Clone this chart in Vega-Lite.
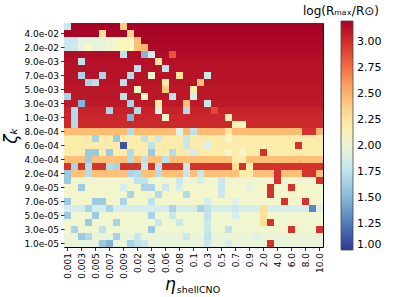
{
"$schema": "https://vega.github.io/schema/vega-lite/v6.json",
"width": 259, "height": 224,
"autosize": "none",
"padding": {"left": 64, "top": 23, "right": 74, "bottom": 50},
"background": "white",
"config": {
 "font": "DejaVu Sans",
 "view": {"stroke": "black", "strokeWidth": 1},
 "axis": {"labelFont": "DejaVu Sans", "labelFontSize": 9, "labelColor": "black", "tickColor": "black", "tickSize": 3.5, "tickWidth": 0.8, "domain": false, "grid": false, "titleFont": "DejaVu Sans", "titleColor": "black", "titleFontWeight": "normal"}
},
"title": {"text": "η", "orient": "bottom", "frame": "group", "anchor": "middle", "dx": -23, "offset": -4, "fontSize": 17, "fontStyle": "italic", "fontWeight": "normal", "font": "DejaVu Sans", "color": "black", "baseline": "alphabetic"},
"data": {"values": [
{"x":0.001,"y":0.05,"v":1.8},{"x":0.002,"y":0.05,"v":3.19},{"x":0.003,"y":0.05,"v":3.19},{"x":0.004,"y":0.05,"v":3.19},{"x":0.005,"y":0.05,"v":3.19},{"x":0.006,"y":0.05,"v":3.19},{"x":0.007,"y":0.05,"v":3.19},{"x":0.008,"y":0.05,"v":3.19},{"x":0.009,"y":0.05,"v":2.4},{"x":0.01,"y":0.05,"v":3.19},{"x":0.02,"y":0.05,"v":3.19},{"x":0.03,"y":0.05,"v":3.19},{"x":0.04,"y":0.05,"v":3.19},{"x":0.05,"y":0.05,"v":3.19},{"x":0.06,"y":0.05,"v":3.19},{"x":0.07,"y":0.05,"v":3.19},{"x":0.08,"y":0.05,"v":3.19},{"x":0.09,"y":0.05,"v":3.19},{"x":0.1,"y":0.05,"v":3.19},{"x":0.2,"y":0.05,"v":3.19},{"x":0.3,"y":0.05,"v":3.19},{"x":0.4,"y":0.05,"v":3.19},{"x":0.5,"y":0.05,"v":3.19},{"x":0.6,"y":0.05,"v":3.19},{"x":0.7,"y":0.05,"v":3.19},{"x":0.8,"y":0.05,"v":3.19},{"x":0.9,"y":0.05,"v":3.19},{"x":1,"y":0.05,"v":3.19},{"x":2,"y":0.05,"v":3.19},{"x":3,"y":0.05,"v":3.19},{"x":4,"y":0.05,"v":3.19},{"x":5,"y":0.05,"v":3.19},{"x":6,"y":0.05,"v":3.19},{"x":7,"y":0.05,"v":3.19},{"x":8,"y":0.05,"v":3.19},{"x":9,"y":0.05,"v":3.19},{"x":10,"y":0.05,"v":3.19},
{"x":0.001,"y":0.04,"v":3.18},{"x":0.002,"y":0.04,"v":3.18},{"x":0.003,"y":0.04,"v":3.18},{"x":0.004,"y":0.04,"v":3.18},{"x":0.005,"y":0.04,"v":3.18},{"x":0.006,"y":0.04,"v":2.3},{"x":0.007,"y":0.04,"v":3.18},{"x":0.008,"y":0.04,"v":3.18},{"x":0.009,"y":0.04,"v":3.18},{"x":0.01,"y":0.04,"v":2.35},{"x":0.02,"y":0.04,"v":3.18},{"x":0.03,"y":0.04,"v":3.18},{"x":0.04,"y":0.04,"v":3.18},{"x":0.05,"y":0.04,"v":3.18},{"x":0.06,"y":0.04,"v":3.18},{"x":0.07,"y":0.04,"v":3.18},{"x":0.08,"y":0.04,"v":3.18},{"x":0.09,"y":0.04,"v":3.18},{"x":0.1,"y":0.04,"v":3.18},{"x":0.2,"y":0.04,"v":3.18},{"x":0.3,"y":0.04,"v":3.18},{"x":0.4,"y":0.04,"v":3.18},{"x":0.5,"y":0.04,"v":3.18},{"x":0.6,"y":0.04,"v":3.18},{"x":0.7,"y":0.04,"v":3.18},{"x":0.8,"y":0.04,"v":3.18},{"x":0.9,"y":0.04,"v":3.18},{"x":1,"y":0.04,"v":3.18},{"x":2,"y":0.04,"v":3.18},{"x":3,"y":0.04,"v":3.18},{"x":4,"y":0.04,"v":3.18},{"x":5,"y":0.04,"v":3.18},{"x":6,"y":0.04,"v":3.18},{"x":7,"y":0.04,"v":3.18},{"x":8,"y":0.04,"v":3.18},{"x":9,"y":0.04,"v":3.18},{"x":10,"y":0.04,"v":3.18},
{"x":0.001,"y":0.03,"v":1.8},{"x":0.002,"y":0.03,"v":1.8},{"x":0.003,"y":0.03,"v":1.93},{"x":0.004,"y":0.03,"v":1.93},{"x":0.005,"y":0.03,"v":1.93},{"x":0.006,"y":0.03,"v":1.97},{"x":0.007,"y":0.03,"v":2.02},{"x":0.008,"y":0.03,"v":2.05},{"x":0.009,"y":0.03,"v":2.1},{"x":0.01,"y":0.03,"v":2.12},{"x":0.02,"y":0.03,"v":2.45},{"x":0.03,"y":0.03,"v":3.17},{"x":0.04,"y":0.03,"v":3.17},{"x":0.05,"y":0.03,"v":3.17},{"x":0.06,"y":0.03,"v":3.17},{"x":0.07,"y":0.03,"v":3.17},{"x":0.08,"y":0.03,"v":3.17},{"x":0.09,"y":0.03,"v":3.17},{"x":0.1,"y":0.03,"v":3.17},{"x":0.2,"y":0.03,"v":3.17},{"x":0.3,"y":0.03,"v":3.17},{"x":0.4,"y":0.03,"v":3.17},{"x":0.5,"y":0.03,"v":3.17},{"x":0.6,"y":0.03,"v":3.17},{"x":0.7,"y":0.03,"v":3.17},{"x":0.8,"y":0.03,"v":3.17},{"x":0.9,"y":0.03,"v":3.17},{"x":1,"y":0.03,"v":3.17},{"x":2,"y":0.03,"v":3.17},{"x":3,"y":0.03,"v":3.17},{"x":4,"y":0.03,"v":3.17},{"x":5,"y":0.03,"v":3.17},{"x":6,"y":0.03,"v":3.17},{"x":7,"y":0.03,"v":3.17},{"x":8,"y":0.03,"v":3.17},{"x":9,"y":0.03,"v":3.17},{"x":10,"y":0.03,"v":3.17},
{"x":0.001,"y":0.02,"v":1.8},{"x":0.002,"y":0.02,"v":1.82},{"x":0.003,"y":0.02,"v":1.95},{"x":0.004,"y":0.02,"v":2.1},{"x":0.005,"y":0.02,"v":1.95},{"x":0.006,"y":0.02,"v":1.97},{"x":0.007,"y":0.02,"v":2.0},{"x":0.008,"y":0.02,"v":2.08},{"x":0.009,"y":0.02,"v":2.12},{"x":0.01,"y":0.02,"v":2.1},{"x":0.02,"y":0.02,"v":2.45},{"x":0.03,"y":0.02,"v":2.5},{"x":0.04,"y":0.02,"v":3.16},{"x":0.05,"y":0.02,"v":3.16},{"x":0.06,"y":0.02,"v":3.16},{"x":0.07,"y":0.02,"v":3.16},{"x":0.08,"y":0.02,"v":3.16},{"x":0.09,"y":0.02,"v":3.16},{"x":0.1,"y":0.02,"v":3.16},{"x":0.2,"y":0.02,"v":3.16},{"x":0.3,"y":0.02,"v":3.16},{"x":0.4,"y":0.02,"v":3.16},{"x":0.5,"y":0.02,"v":3.16},{"x":0.6,"y":0.02,"v":3.16},{"x":0.7,"y":0.02,"v":3.16},{"x":0.8,"y":0.02,"v":3.16},{"x":0.9,"y":0.02,"v":3.16},{"x":1,"y":0.02,"v":3.16},{"x":2,"y":0.02,"v":3.16},{"x":3,"y":0.02,"v":3.16},{"x":4,"y":0.02,"v":3.16},{"x":5,"y":0.02,"v":3.16},{"x":6,"y":0.02,"v":3.16},{"x":7,"y":0.02,"v":3.16},{"x":8,"y":0.02,"v":3.16},{"x":9,"y":0.02,"v":3.16},{"x":10,"y":0.02,"v":3.16},
{"x":0.001,"y":0.01,"v":3.15},{"x":0.002,"y":0.01,"v":3.15},{"x":0.003,"y":0.01,"v":3.15},{"x":0.004,"y":0.01,"v":3.15},{"x":0.005,"y":0.01,"v":3.15},{"x":0.006,"y":0.01,"v":3.15},{"x":0.007,"y":0.01,"v":3.15},{"x":0.008,"y":0.01,"v":3.15},{"x":0.009,"y":0.01,"v":1.75},{"x":0.01,"y":0.01,"v":3.15},{"x":0.02,"y":0.01,"v":3.15},{"x":0.03,"y":0.01,"v":1.5},{"x":0.04,"y":0.01,"v":1.85},{"x":0.05,"y":0.01,"v":3.15},{"x":0.06,"y":0.01,"v":3.15},{"x":0.07,"y":0.01,"v":2.85},{"x":0.08,"y":0.01,"v":3.15},{"x":0.09,"y":0.01,"v":3.15},{"x":0.1,"y":0.01,"v":3.15},{"x":0.2,"y":0.01,"v":3.15},{"x":0.3,"y":0.01,"v":3.15},{"x":0.4,"y":0.01,"v":3.15},{"x":0.5,"y":0.01,"v":3.15},{"x":0.6,"y":0.01,"v":3.15},{"x":0.7,"y":0.01,"v":3.15},{"x":0.8,"y":0.01,"v":3.15},{"x":0.9,"y":0.01,"v":3.15},{"x":1,"y":0.01,"v":3.15},{"x":2,"y":0.01,"v":3.15},{"x":3,"y":0.01,"v":3.15},{"x":4,"y":0.01,"v":3.15},{"x":5,"y":0.01,"v":3.15},{"x":6,"y":0.01,"v":3.15},{"x":7,"y":0.01,"v":3.15},{"x":8,"y":0.01,"v":3.15},{"x":9,"y":0.01,"v":3.15},{"x":10,"y":0.01,"v":3.15},
{"x":0.001,"y":0.009,"v":3.13},{"x":0.002,"y":0.009,"v":3.13},{"x":0.003,"y":0.009,"v":1.75},{"x":0.004,"y":0.009,"v":3.13},{"x":0.005,"y":0.009,"v":3.13},{"x":0.006,"y":0.009,"v":3.13},{"x":0.007,"y":0.009,"v":3.13},{"x":0.008,"y":0.009,"v":3.13},{"x":0.009,"y":0.009,"v":3.13},{"x":0.01,"y":0.009,"v":3.13},{"x":0.02,"y":0.009,"v":3.13},{"x":0.03,"y":0.009,"v":3.13},{"x":0.04,"y":0.009,"v":3.13},{"x":0.05,"y":0.009,"v":2.25},{"x":0.06,"y":0.009,"v":3.13},{"x":0.07,"y":0.009,"v":3.13},{"x":0.08,"y":0.009,"v":3.13},{"x":0.09,"y":0.009,"v":3.13},{"x":0.1,"y":0.009,"v":3.13},{"x":0.2,"y":0.009,"v":3.13},{"x":0.3,"y":0.009,"v":3.13},{"x":0.4,"y":0.009,"v":3.13},{"x":0.5,"y":0.009,"v":3.13},{"x":0.6,"y":0.009,"v":3.13},{"x":0.7,"y":0.009,"v":3.13},{"x":0.8,"y":0.009,"v":3.13},{"x":0.9,"y":0.009,"v":3.13},{"x":1,"y":0.009,"v":3.13},{"x":2,"y":0.009,"v":3.13},{"x":3,"y":0.009,"v":3.13},{"x":4,"y":0.009,"v":3.13},{"x":5,"y":0.009,"v":3.13},{"x":6,"y":0.009,"v":3.13},{"x":7,"y":0.009,"v":3.13},{"x":8,"y":0.009,"v":3.13},{"x":9,"y":0.009,"v":3.13},{"x":10,"y":0.009,"v":3.13},
{"x":0.001,"y":0.008,"v":3.12},{"x":0.002,"y":0.008,"v":3.12},{"x":0.003,"y":0.008,"v":3.12},{"x":0.004,"y":0.008,"v":3.12},{"x":0.005,"y":0.008,"v":3.12},{"x":0.006,"y":0.008,"v":3.12},{"x":0.007,"y":0.008,"v":3.12},{"x":0.008,"y":0.008,"v":3.12},{"x":0.009,"y":0.008,"v":3.12},{"x":0.01,"y":0.008,"v":3.12},{"x":0.02,"y":0.008,"v":1.75},{"x":0.03,"y":0.008,"v":3.12},{"x":0.04,"y":0.008,"v":3.12},{"x":0.05,"y":0.008,"v":3.12},{"x":0.06,"y":0.008,"v":1.75},{"x":0.07,"y":0.008,"v":3.12},{"x":0.08,"y":0.008,"v":3.12},{"x":0.09,"y":0.008,"v":3.12},{"x":0.1,"y":0.008,"v":3.12},{"x":0.2,"y":0.008,"v":3.12},{"x":0.3,"y":0.008,"v":3.12},{"x":0.4,"y":0.008,"v":3.12},{"x":0.5,"y":0.008,"v":3.12},{"x":0.6,"y":0.008,"v":3.12},{"x":0.7,"y":0.008,"v":3.12},{"x":0.8,"y":0.008,"v":3.12},{"x":0.9,"y":0.008,"v":3.12},{"x":1,"y":0.008,"v":3.12},{"x":2,"y":0.008,"v":3.12},{"x":3,"y":0.008,"v":3.12},{"x":4,"y":0.008,"v":3.12},{"x":5,"y":0.008,"v":3.12},{"x":6,"y":0.008,"v":3.12},{"x":7,"y":0.008,"v":3.12},{"x":8,"y":0.008,"v":3.12},{"x":9,"y":0.008,"v":3.12},{"x":10,"y":0.008,"v":3.12},
{"x":0.001,"y":0.007,"v":3.12},{"x":0.002,"y":0.007,"v":3.12},{"x":0.003,"y":0.007,"v":1.65},{"x":0.004,"y":0.007,"v":3.12},{"x":0.005,"y":0.007,"v":3.12},{"x":0.006,"y":0.007,"v":1.65},{"x":0.007,"y":0.007,"v":3.12},{"x":0.008,"y":0.007,"v":3.12},{"x":0.009,"y":0.007,"v":3.12},{"x":0.01,"y":0.007,"v":1.7},{"x":0.02,"y":0.007,"v":3.12},{"x":0.03,"y":0.007,"v":3.12},{"x":0.04,"y":0.007,"v":2.05},{"x":0.05,"y":0.007,"v":3.12},{"x":0.06,"y":0.007,"v":3.12},{"x":0.07,"y":0.007,"v":3.12},{"x":0.08,"y":0.007,"v":2.25},{"x":0.09,"y":0.007,"v":3.12},{"x":0.1,"y":0.007,"v":3.12},{"x":0.2,"y":0.007,"v":3.12},{"x":0.3,"y":0.007,"v":1.8},{"x":0.4,"y":0.007,"v":3.12},{"x":0.5,"y":0.007,"v":3.12},{"x":0.6,"y":0.007,"v":3.12},{"x":0.7,"y":0.007,"v":3.12},{"x":0.8,"y":0.007,"v":3.12},{"x":0.9,"y":0.007,"v":3.12},{"x":1,"y":0.007,"v":3.12},{"x":2,"y":0.007,"v":3.12},{"x":3,"y":0.007,"v":3.12},{"x":4,"y":0.007,"v":3.12},{"x":5,"y":0.007,"v":3.12},{"x":6,"y":0.007,"v":3.12},{"x":7,"y":0.007,"v":3.12},{"x":8,"y":0.007,"v":3.12},{"x":9,"y":0.007,"v":3.12},{"x":10,"y":0.007,"v":3.12},
{"x":0.001,"y":0.006,"v":3.11},{"x":0.002,"y":0.006,"v":3.11},{"x":0.003,"y":0.006,"v":3.11},{"x":0.004,"y":0.006,"v":1.65},{"x":0.005,"y":0.006,"v":1.75},{"x":0.006,"y":0.006,"v":3.11},{"x":0.007,"y":0.006,"v":3.11},{"x":0.008,"y":0.006,"v":3.11},{"x":0.009,"y":0.006,"v":1.75},{"x":0.01,"y":0.006,"v":3.11},{"x":0.02,"y":0.006,"v":3.11},{"x":0.03,"y":0.006,"v":3.11},{"x":0.04,"y":0.006,"v":3.11},{"x":0.05,"y":0.006,"v":3.11},{"x":0.06,"y":0.006,"v":2.2},{"x":0.07,"y":0.006,"v":3.11},{"x":0.08,"y":0.006,"v":3.11},{"x":0.09,"y":0.006,"v":3.11},{"x":0.1,"y":0.006,"v":3.11},{"x":0.2,"y":0.006,"v":2.45},{"x":0.3,"y":0.006,"v":3.11},{"x":0.4,"y":0.006,"v":3.11},{"x":0.5,"y":0.006,"v":3.11},{"x":0.6,"y":0.006,"v":3.11},{"x":0.7,"y":0.006,"v":3.11},{"x":0.8,"y":0.006,"v":3.11},{"x":0.9,"y":0.006,"v":3.11},{"x":1,"y":0.006,"v":3.11},{"x":2,"y":0.006,"v":3.11},{"x":3,"y":0.006,"v":3.11},{"x":4,"y":0.006,"v":3.11},{"x":5,"y":0.006,"v":3.11},{"x":6,"y":0.006,"v":3.11},{"x":7,"y":0.006,"v":3.11},{"x":8,"y":0.006,"v":3.11},{"x":9,"y":0.006,"v":3.11},{"x":10,"y":0.006,"v":3.11},
{"x":0.001,"y":0.005,"v":3.1},{"x":0.002,"y":0.005,"v":3.1},{"x":0.003,"y":0.005,"v":3.1},{"x":0.004,"y":0.005,"v":3.1},{"x":0.005,"y":0.005,"v":3.1},{"x":0.006,"y":0.005,"v":3.1},{"x":0.007,"y":0.005,"v":3.1},{"x":0.008,"y":0.005,"v":3.1},{"x":0.009,"y":0.005,"v":3.1},{"x":0.01,"y":0.005,"v":3.1},{"x":0.02,"y":0.005,"v":2.1},{"x":0.03,"y":0.005,"v":3.1},{"x":0.04,"y":0.005,"v":3.1},{"x":0.05,"y":0.005,"v":3.1},{"x":0.06,"y":0.005,"v":2.4},{"x":0.07,"y":0.005,"v":3.1},{"x":0.08,"y":0.005,"v":3.1},{"x":0.09,"y":0.005,"v":3.1},{"x":0.1,"y":0.005,"v":2.2},{"x":0.2,"y":0.005,"v":3.1},{"x":0.3,"y":0.005,"v":3.1},{"x":0.4,"y":0.005,"v":3.1},{"x":0.5,"y":0.005,"v":3.1},{"x":0.6,"y":0.005,"v":3.1},{"x":0.7,"y":0.005,"v":3.1},{"x":0.8,"y":0.005,"v":3.1},{"x":0.9,"y":0.005,"v":3.1},{"x":1,"y":0.005,"v":3.1},{"x":2,"y":0.005,"v":3.1},{"x":3,"y":0.005,"v":3.1},{"x":4,"y":0.005,"v":3.1},{"x":5,"y":0.005,"v":3.1},{"x":6,"y":0.005,"v":3.1},{"x":7,"y":0.005,"v":3.1},{"x":8,"y":0.005,"v":3.1},{"x":9,"y":0.005,"v":3.1},{"x":10,"y":0.005,"v":3.1},
{"x":0.001,"y":0.004,"v":1.65},{"x":0.002,"y":0.004,"v":3.1},{"x":0.003,"y":0.004,"v":3.1},{"x":0.004,"y":0.004,"v":3.1},{"x":0.005,"y":0.004,"v":3.1},{"x":0.006,"y":0.004,"v":3.1},{"x":0.007,"y":0.004,"v":3.1},{"x":0.008,"y":0.004,"v":3.1},{"x":0.009,"y":0.004,"v":1.75},{"x":0.01,"y":0.004,"v":3.1},{"x":0.02,"y":0.004,"v":3.1},{"x":0.03,"y":0.004,"v":2.05},{"x":0.04,"y":0.004,"v":3.1},{"x":0.05,"y":0.004,"v":3.1},{"x":0.06,"y":0.004,"v":3.1},{"x":0.07,"y":0.004,"v":1.75},{"x":0.08,"y":0.004,"v":3.1},{"x":0.09,"y":0.004,"v":3.1},{"x":0.1,"y":0.004,"v":1.85},{"x":0.2,"y":0.004,"v":3.1},{"x":0.3,"y":0.004,"v":3.1},{"x":0.4,"y":0.004,"v":3.1},{"x":0.5,"y":0.004,"v":3.1},{"x":0.6,"y":0.004,"v":3.1},{"x":0.7,"y":0.004,"v":3.1},{"x":0.8,"y":0.004,"v":3.1},{"x":0.9,"y":0.004,"v":3.1},{"x":1,"y":0.004,"v":3.1},{"x":2,"y":0.004,"v":3.1},{"x":3,"y":0.004,"v":3.1},{"x":4,"y":0.004,"v":3.1},{"x":5,"y":0.004,"v":3.1},{"x":6,"y":0.004,"v":3.1},{"x":7,"y":0.004,"v":3.1},{"x":8,"y":0.004,"v":3.1},{"x":9,"y":0.004,"v":3.1},{"x":10,"y":0.004,"v":3.1},
{"x":0.001,"y":0.003,"v":3.09},{"x":0.002,"y":0.003,"v":3.09},{"x":0.003,"y":0.003,"v":1.5},{"x":0.004,"y":0.003,"v":3.09},{"x":0.005,"y":0.003,"v":3.09},{"x":0.006,"y":0.003,"v":3.09},{"x":0.007,"y":0.003,"v":3.09},{"x":0.008,"y":0.003,"v":3.09},{"x":0.009,"y":0.003,"v":3.09},{"x":0.01,"y":0.003,"v":1.65},{"x":0.02,"y":0.003,"v":3.09},{"x":0.03,"y":0.003,"v":3.09},{"x":0.04,"y":0.003,"v":3.09},{"x":0.05,"y":0.003,"v":2.2},{"x":0.06,"y":0.003,"v":3.09},{"x":0.07,"y":0.003,"v":3.09},{"x":0.08,"y":0.003,"v":3.09},{"x":0.09,"y":0.003,"v":2.45},{"x":0.1,"y":0.003,"v":3.09},{"x":0.2,"y":0.003,"v":3.09},{"x":0.3,"y":0.003,"v":1.8},{"x":0.4,"y":0.003,"v":3.09},{"x":0.5,"y":0.003,"v":3.09},{"x":0.6,"y":0.003,"v":3.09},{"x":0.7,"y":0.003,"v":3.09},{"x":0.8,"y":0.003,"v":3.09},{"x":0.9,"y":0.003,"v":3.09},{"x":1,"y":0.003,"v":3.09},{"x":2,"y":0.003,"v":3.09},{"x":3,"y":0.003,"v":3.09},{"x":4,"y":0.003,"v":3.09},{"x":5,"y":0.003,"v":3.09},{"x":6,"y":0.003,"v":3.09},{"x":7,"y":0.003,"v":3.09},{"x":8,"y":0.003,"v":3.09},{"x":9,"y":0.003,"v":3.09},{"x":10,"y":0.003,"v":3.09},
{"x":0.001,"y":0.002,"v":3.05},{"x":0.002,"y":0.002,"v":1.7},{"x":0.003,"y":0.002,"v":3.05},{"x":0.004,"y":0.002,"v":3.05},{"x":0.005,"y":0.002,"v":3.05},{"x":0.006,"y":0.002,"v":3.05},{"x":0.007,"y":0.002,"v":1.65},{"x":0.008,"y":0.002,"v":3.05},{"x":0.009,"y":0.002,"v":3.05},{"x":0.01,"y":0.002,"v":3.05},{"x":0.02,"y":0.002,"v":1.7},{"x":0.03,"y":0.002,"v":3.05},{"x":0.04,"y":0.002,"v":3.05},{"x":0.05,"y":0.002,"v":1.9},{"x":0.06,"y":0.002,"v":3.05},{"x":0.07,"y":0.002,"v":3.05},{"x":0.08,"y":0.002,"v":3.05},{"x":0.09,"y":0.002,"v":1.7},{"x":0.1,"y":0.002,"v":3.05},{"x":0.2,"y":0.002,"v":3.05},{"x":0.3,"y":0.002,"v":3.05},{"x":0.4,"y":0.002,"v":2.9},{"x":0.5,"y":0.002,"v":3.05},{"x":0.6,"y":0.002,"v":3.05},{"x":0.7,"y":0.002,"v":3.05},{"x":0.8,"y":0.002,"v":3.05},{"x":0.9,"y":0.002,"v":3.05},{"x":1,"y":0.002,"v":3.05},{"x":2,"y":0.002,"v":3.05},{"x":3,"y":0.002,"v":3.05},{"x":4,"y":0.002,"v":3.05},{"x":5,"y":0.002,"v":3.05},{"x":6,"y":0.002,"v":3.05},{"x":7,"y":0.002,"v":3.05},{"x":8,"y":0.002,"v":3.05},{"x":9,"y":0.002,"v":3.05},{"x":10,"y":0.002,"v":3.05},
{"x":0.001,"y":0.001,"v":3.03},{"x":0.002,"y":0.001,"v":1.7},{"x":0.003,"y":0.001,"v":3.03},{"x":0.004,"y":0.001,"v":3.03},{"x":0.005,"y":0.001,"v":3.03},{"x":0.006,"y":0.001,"v":3.03},{"x":0.007,"y":0.001,"v":3.03},{"x":0.008,"y":0.001,"v":3.03},{"x":0.009,"y":0.001,"v":3.03},{"x":0.01,"y":0.001,"v":1.5},{"x":0.02,"y":0.001,"v":3.03},{"x":0.03,"y":0.001,"v":3.03},{"x":0.04,"y":0.001,"v":3.03},{"x":0.05,"y":0.001,"v":3.03},{"x":0.06,"y":0.001,"v":2.05},{"x":0.07,"y":0.001,"v":3.03},{"x":0.08,"y":0.001,"v":3.03},{"x":0.09,"y":0.001,"v":3.03},{"x":0.1,"y":0.001,"v":3.03},{"x":0.2,"y":0.001,"v":3.03},{"x":0.3,"y":0.001,"v":3.03},{"x":0.4,"y":0.001,"v":3.03},{"x":0.5,"y":0.001,"v":3.03},{"x":0.6,"y":0.001,"v":2.2},{"x":0.7,"y":0.001,"v":3.03},{"x":0.8,"y":0.001,"v":3.03},{"x":0.9,"y":0.001,"v":3.03},{"x":1,"y":0.001,"v":3.03},{"x":2,"y":0.001,"v":3.03},{"x":3,"y":0.001,"v":3.03},{"x":4,"y":0.001,"v":3.03},{"x":5,"y":0.001,"v":3.03},{"x":6,"y":0.001,"v":3.03},{"x":7,"y":0.001,"v":3.03},{"x":8,"y":0.001,"v":3.03},{"x":9,"y":0.001,"v":3.03},{"x":10,"y":0.001,"v":3.03},
{"x":0.001,"y":9e-4,"v":3.02},{"x":0.002,"y":9e-4,"v":1.7},{"x":0.003,"y":9e-4,"v":3.02},{"x":0.004,"y":9e-4,"v":3.02},{"x":0.005,"y":9e-4,"v":3.02},{"x":0.006,"y":9e-4,"v":3.02},{"x":0.007,"y":9e-4,"v":3.02},{"x":0.008,"y":9e-4,"v":3.02},{"x":0.009,"y":9e-4,"v":3.02},{"x":0.01,"y":9e-4,"v":3.02},{"x":0.02,"y":9e-4,"v":3.02},{"x":0.03,"y":9e-4,"v":3.02},{"x":0.04,"y":9e-4,"v":3.02},{"x":0.05,"y":9e-4,"v":3.02},{"x":0.06,"y":9e-4,"v":3.02},{"x":0.07,"y":9e-4,"v":3.02},{"x":0.08,"y":9e-4,"v":3.02},{"x":0.09,"y":9e-4,"v":3.02},{"x":0.1,"y":9e-4,"v":3.02},{"x":0.2,"y":9e-4,"v":3.02},{"x":0.3,"y":9e-4,"v":3.02},{"x":0.4,"y":9e-4,"v":3.02},{"x":0.5,"y":9e-4,"v":3.02},{"x":0.6,"y":9e-4,"v":3.02},{"x":0.7,"y":9e-4,"v":2.15},{"x":0.8,"y":9e-4,"v":2.1},{"x":0.9,"y":9e-4,"v":3.02},{"x":1,"y":9e-4,"v":3.02},{"x":2,"y":9e-4,"v":3.02},{"x":3,"y":9e-4,"v":3.02},{"x":4,"y":9e-4,"v":3.02},{"x":5,"y":9e-4,"v":3.02},{"x":6,"y":9e-4,"v":3.02},{"x":7,"y":9e-4,"v":3.02},{"x":8,"y":9e-4,"v":3.02},{"x":9,"y":9e-4,"v":3.02},{"x":10,"y":9e-4,"v":3.02},
{"x":0.001,"y":8e-4,"v":2.47},{"x":0.002,"y":8e-4,"v":2.47},{"x":0.003,"y":8e-4,"v":2.47},{"x":0.004,"y":8e-4,"v":2.47},{"x":0.005,"y":8e-4,"v":2.47},{"x":0.006,"y":8e-4,"v":2.47},{"x":0.007,"y":8e-4,"v":2.47},{"x":0.008,"y":8e-4,"v":2.47},{"x":0.009,"y":8e-4,"v":2.47},{"x":0.01,"y":8e-4,"v":1.7},{"x":0.02,"y":8e-4,"v":2.47},{"x":0.03,"y":8e-4,"v":2.47},{"x":0.04,"y":8e-4,"v":2.47},{"x":0.05,"y":8e-4,"v":2.47},{"x":0.06,"y":8e-4,"v":2.47},{"x":0.07,"y":8e-4,"v":2.47},{"x":0.08,"y":8e-4,"v":1.9},{"x":0.09,"y":8e-4,"v":2.47},{"x":0.1,"y":8e-4,"v":1.75},{"x":0.2,"y":8e-4,"v":2.47},{"x":0.3,"y":8e-4,"v":2.47},{"x":0.4,"y":8e-4,"v":2.47},{"x":0.5,"y":8e-4,"v":2.47},{"x":0.6,"y":8e-4,"v":2.25},{"x":0.7,"y":8e-4,"v":2.47},{"x":0.8,"y":8e-4,"v":2.47},{"x":0.9,"y":8e-4,"v":2.47},{"x":1,"y":8e-4,"v":2.47},{"x":2,"y":8e-4,"v":2.47},{"x":3,"y":8e-4,"v":2.47},{"x":4,"y":8e-4,"v":2.47},{"x":5,"y":8e-4,"v":2.47},{"x":6,"y":8e-4,"v":2.47},{"x":7,"y":8e-4,"v":2.47},{"x":8,"y":8e-4,"v":2.98},{"x":9,"y":8e-4,"v":2.98},{"x":10,"y":8e-4,"v":2.5},
{"x":0.001,"y":7e-4,"v":2.2},{"x":0.002,"y":7e-4,"v":2.2},{"x":0.003,"y":7e-4,"v":2.2},{"x":0.004,"y":7e-4,"v":2.2},{"x":0.005,"y":7e-4,"v":1.65},{"x":0.006,"y":7e-4,"v":2.2},{"x":0.007,"y":7e-4,"v":2.2},{"x":0.008,"y":7e-4,"v":1.6},{"x":0.009,"y":7e-4,"v":2.2},{"x":0.01,"y":7e-4,"v":2.2},{"x":0.02,"y":7e-4,"v":2.2},{"x":0.03,"y":7e-4,"v":1.75},{"x":0.04,"y":7e-4,"v":2.2},{"x":0.05,"y":7e-4,"v":1.8},{"x":0.06,"y":7e-4,"v":2.2},{"x":0.07,"y":7e-4,"v":2.2},{"x":0.08,"y":7e-4,"v":2.2},{"x":0.09,"y":7e-4,"v":1.8},{"x":0.1,"y":7e-4,"v":2.2},{"x":0.2,"y":7e-4,"v":2.2},{"x":0.3,"y":7e-4,"v":2.2},{"x":0.4,"y":7e-4,"v":2.2},{"x":0.5,"y":7e-4,"v":2.2},{"x":0.6,"y":7e-4,"v":2.05},{"x":0.7,"y":7e-4,"v":2.2},{"x":0.8,"y":7e-4,"v":2.2},{"x":0.9,"y":7e-4,"v":2.2},{"x":1,"y":7e-4,"v":2.2},{"x":2,"y":7e-4,"v":2.2},{"x":3,"y":7e-4,"v":2.2},{"x":4,"y":7e-4,"v":2.2},{"x":5,"y":7e-4,"v":2.2},{"x":6,"y":7e-4,"v":2.2},{"x":7,"y":7e-4,"v":2.2},{"x":8,"y":7e-4,"v":2.2},{"x":9,"y":7e-4,"v":2.2},{"x":10,"y":7e-4,"v":2.2},
{"x":0.001,"y":6e-4,"v":2.2},{"x":0.002,"y":6e-4,"v":2.2},{"x":0.003,"y":6e-4,"v":2.2},{"x":0.004,"y":6e-4,"v":2.2},{"x":0.005,"y":6e-4,"v":2.2},{"x":0.006,"y":6e-4,"v":2.2},{"x":0.007,"y":6e-4,"v":2.2},{"x":0.008,"y":6e-4,"v":2.2},{"x":0.009,"y":6e-4,"v":1.1},{"x":0.01,"y":6e-4,"v":2.2},{"x":0.02,"y":6e-4,"v":2.2},{"x":0.03,"y":6e-4,"v":2.2},{"x":0.04,"y":6e-4,"v":1.75},{"x":0.05,"y":6e-4,"v":2.2},{"x":0.06,"y":6e-4,"v":2.2},{"x":0.07,"y":6e-4,"v":2.2},{"x":0.08,"y":6e-4,"v":2.2},{"x":0.09,"y":6e-4,"v":1.8},{"x":0.1,"y":6e-4,"v":2.2},{"x":0.2,"y":6e-4,"v":2.2},{"x":0.3,"y":6e-4,"v":1.9},{"x":0.4,"y":6e-4,"v":2.2},{"x":0.5,"y":6e-4,"v":2.2},{"x":0.6,"y":6e-4,"v":2.2},{"x":0.7,"y":6e-4,"v":2.2},{"x":0.8,"y":6e-4,"v":2.2},{"x":0.9,"y":6e-4,"v":2.2},{"x":1,"y":6e-4,"v":2.2},{"x":2,"y":6e-4,"v":2.2},{"x":3,"y":6e-4,"v":2.2},{"x":4,"y":6e-4,"v":2.2},{"x":5,"y":6e-4,"v":2.2},{"x":6,"y":6e-4,"v":2.2},{"x":7,"y":6e-4,"v":2.98},{"x":8,"y":6e-4,"v":2.2},{"x":9,"y":6e-4,"v":2.2},{"x":10,"y":6e-4,"v":2.2},
{"x":0.001,"y":5e-4,"v":2.2},{"x":0.002,"y":5e-4,"v":2.2},{"x":0.003,"y":5e-4,"v":2.2},{"x":0.004,"y":5e-4,"v":1.6},{"x":0.005,"y":5e-4,"v":1.6},{"x":0.006,"y":5e-4,"v":2.2},{"x":0.007,"y":5e-4,"v":1.6},{"x":0.008,"y":5e-4,"v":2.2},{"x":0.009,"y":5e-4,"v":2.2},{"x":0.01,"y":5e-4,"v":1.7},{"x":0.02,"y":5e-4,"v":2.2},{"x":0.03,"y":5e-4,"v":2.2},{"x":0.04,"y":5e-4,"v":1.6},{"x":0.05,"y":5e-4,"v":2.2},{"x":0.06,"y":5e-4,"v":2.2},{"x":0.07,"y":5e-4,"v":1.7},{"x":0.08,"y":5e-4,"v":2.2},{"x":0.09,"y":5e-4,"v":2.2},{"x":0.1,"y":5e-4,"v":1.85},{"x":0.2,"y":5e-4,"v":2.2},{"x":0.3,"y":5e-4,"v":2.2},{"x":0.4,"y":5e-4,"v":2.2},{"x":0.5,"y":5e-4,"v":2.2},{"x":0.6,"y":5e-4,"v":2.05},{"x":0.7,"y":5e-4,"v":2.2},{"x":0.8,"y":5e-4,"v":2.05},{"x":0.9,"y":5e-4,"v":2.2},{"x":1,"y":5e-4,"v":2.2},{"x":2,"y":5e-4,"v":2.98},{"x":3,"y":5e-4,"v":2.2},{"x":4,"y":5e-4,"v":2.2},{"x":5,"y":5e-4,"v":2.2},{"x":6,"y":5e-4,"v":2.2},{"x":7,"y":5e-4,"v":2.2},{"x":8,"y":5e-4,"v":2.2},{"x":9,"y":5e-4,"v":2.2},{"x":10,"y":5e-4,"v":2.2},
{"x":0.001,"y":4e-4,"v":2.45},{"x":0.002,"y":4e-4,"v":2.45},{"x":0.003,"y":4e-4,"v":2.45},{"x":0.004,"y":4e-4,"v":1.6},{"x":0.005,"y":4e-4,"v":2.45},{"x":0.006,"y":4e-4,"v":2.45},{"x":0.007,"y":4e-4,"v":2.45},{"x":0.008,"y":4e-4,"v":2.45},{"x":0.009,"y":4e-4,"v":2.45},{"x":0.01,"y":4e-4,"v":1.7},{"x":0.02,"y":4e-4,"v":2.45},{"x":0.03,"y":4e-4,"v":1.75},{"x":0.04,"y":4e-4,"v":2.45},{"x":0.05,"y":4e-4,"v":2.45},{"x":0.06,"y":4e-4,"v":1.75},{"x":0.07,"y":4e-4,"v":2.45},{"x":0.08,"y":4e-4,"v":2.45},{"x":0.09,"y":4e-4,"v":2.45},{"x":0.1,"y":4e-4,"v":2.45},{"x":0.2,"y":4e-4,"v":2.45},{"x":0.3,"y":4e-4,"v":2.45},{"x":0.4,"y":4e-4,"v":2.45},{"x":0.5,"y":4e-4,"v":2.45},{"x":0.6,"y":4e-4,"v":2.45},{"x":0.7,"y":4e-4,"v":2.2},{"x":0.8,"y":4e-4,"v":2.2},{"x":0.9,"y":4e-4,"v":2.45},{"x":1,"y":4e-4,"v":2.45},{"x":2,"y":4e-4,"v":2.45},{"x":3,"y":4e-4,"v":2.45},{"x":4,"y":4e-4,"v":2.45},{"x":5,"y":4e-4,"v":2.45},{"x":6,"y":4e-4,"v":2.45},{"x":7,"y":4e-4,"v":2.45},{"x":8,"y":4e-4,"v":2.45},{"x":9,"y":4e-4,"v":2.45},{"x":10,"y":4e-4,"v":2.45},
{"x":0.001,"y":3e-4,"v":2.98},{"x":0.002,"y":3e-4,"v":1.65},{"x":0.003,"y":3e-4,"v":2.98},{"x":0.004,"y":3e-4,"v":1.7},{"x":0.005,"y":3e-4,"v":2.98},{"x":0.006,"y":3e-4,"v":2.98},{"x":0.007,"y":3e-4,"v":1.7},{"x":0.008,"y":3e-4,"v":1.65},{"x":0.009,"y":3e-4,"v":2.98},{"x":0.01,"y":3e-4,"v":2.98},{"x":0.02,"y":3e-4,"v":2.98},{"x":0.03,"y":3e-4,"v":1.8},{"x":0.04,"y":3e-4,"v":2.98},{"x":0.05,"y":3e-4,"v":1.75},{"x":0.06,"y":3e-4,"v":2.98},{"x":0.07,"y":3e-4,"v":2.98},{"x":0.08,"y":3e-4,"v":2.98},{"x":0.09,"y":3e-4,"v":1.8},{"x":0.1,"y":3e-4,"v":2.98},{"x":0.2,"y":3e-4,"v":2.98},{"x":0.3,"y":3e-4,"v":2.98},{"x":0.4,"y":3e-4,"v":2.98},{"x":0.5,"y":3e-4,"v":2.98},{"x":0.6,"y":3e-4,"v":2.98},{"x":0.7,"y":3e-4,"v":2.3},{"x":0.8,"y":3e-4,"v":2.98},{"x":0.9,"y":3e-4,"v":2.2},{"x":1,"y":3e-4,"v":2.98},{"x":2,"y":3e-4,"v":2.98},{"x":3,"y":3e-4,"v":2.98},{"x":4,"y":3e-4,"v":2.98},{"x":5,"y":3e-4,"v":2.98},{"x":6,"y":3e-4,"v":2.98},{"x":7,"y":3e-4,"v":2.98},{"x":8,"y":3e-4,"v":2.98},{"x":9,"y":3e-4,"v":2.98},{"x":10,"y":3e-4,"v":2.98},
{"x":0.001,"y":2e-4,"v":1.6},{"x":0.002,"y":2e-4,"v":2.45},{"x":0.003,"y":2e-4,"v":2.45},{"x":0.004,"y":2e-4,"v":1.7},{"x":0.005,"y":2e-4,"v":2.45},{"x":0.006,"y":2e-4,"v":2.45},{"x":0.007,"y":2e-4,"v":2.45},{"x":0.008,"y":2e-4,"v":2.45},{"x":0.009,"y":2e-4,"v":2.45},{"x":0.01,"y":2e-4,"v":1.65},{"x":0.02,"y":2e-4,"v":1.7},{"x":0.03,"y":2e-4,"v":2.45},{"x":0.04,"y":2e-4,"v":2.45},{"x":0.05,"y":2e-4,"v":1.7},{"x":0.06,"y":2e-4,"v":2.45},{"x":0.07,"y":2e-4,"v":2.45},{"x":0.08,"y":2e-4,"v":2.45},{"x":0.09,"y":2e-4,"v":1.8},{"x":0.1,"y":2e-4,"v":2.45},{"x":0.2,"y":2e-4,"v":1.8},{"x":0.3,"y":2e-4,"v":2.45},{"x":0.4,"y":2e-4,"v":2.45},{"x":0.5,"y":2e-4,"v":2.45},{"x":0.6,"y":2e-4,"v":2.45},{"x":0.7,"y":2e-4,"v":2.45},{"x":0.8,"y":2e-4,"v":2.2},{"x":0.9,"y":2e-4,"v":2.2},{"x":1,"y":2e-4,"v":2.45},{"x":2,"y":2e-4,"v":2.45},{"x":3,"y":2e-4,"v":2.45},{"x":4,"y":2e-4,"v":2.98},{"x":5,"y":2e-4,"v":2.45},{"x":6,"y":2e-4,"v":2.45},{"x":7,"y":2e-4,"v":2.45},{"x":8,"y":2e-4,"v":2.98},{"x":9,"y":2e-4,"v":2.98},{"x":10,"y":2e-4,"v":2.45},
{"x":0.001,"y":1e-4,"v":1.6},{"x":0.002,"y":1e-4,"v":2.02},{"x":0.003,"y":1e-4,"v":2.02},{"x":0.004,"y":1e-4,"v":2.02},{"x":0.005,"y":1e-4,"v":2.02},{"x":0.006,"y":1e-4,"v":2.02},{"x":0.007,"y":1e-4,"v":2.02},{"x":0.008,"y":1e-4,"v":2.02},{"x":0.009,"y":1e-4,"v":2.02},{"x":0.01,"y":1e-4,"v":2.02},{"x":0.02,"y":1e-4,"v":1.75},{"x":0.03,"y":1e-4,"v":1.75},{"x":0.04,"y":1e-4,"v":2.02},{"x":0.05,"y":1e-4,"v":2.02},{"x":0.06,"y":1e-4,"v":2.02},{"x":0.07,"y":1e-4,"v":2.02},{"x":0.08,"y":1e-4,"v":1.8},{"x":0.09,"y":1e-4,"v":2.02},{"x":0.1,"y":1e-4,"v":2.02},{"x":0.2,"y":1e-4,"v":1.85},{"x":0.3,"y":1e-4,"v":2.02},{"x":0.4,"y":1e-4,"v":2.02},{"x":0.5,"y":1e-4,"v":1.8},{"x":0.6,"y":1e-4,"v":2.02},{"x":0.7,"y":1e-4,"v":2.02},{"x":0.8,"y":1e-4,"v":2.02},{"x":0.9,"y":1e-4,"v":2.02},{"x":1,"y":1e-4,"v":2.02},{"x":2,"y":1e-4,"v":2.02},{"x":3,"y":1e-4,"v":2.02},{"x":4,"y":1e-4,"v":2.98},{"x":5,"y":1e-4,"v":2.02},{"x":6,"y":1e-4,"v":2.02},{"x":7,"y":1e-4,"v":2.02},{"x":8,"y":1e-4,"v":2.02},{"x":9,"y":1e-4,"v":2.02},{"x":10,"y":1e-4,"v":2.98},
{"x":0.001,"y":9e-5,"v":2.05},{"x":0.002,"y":9e-5,"v":2.05},{"x":0.003,"y":9e-5,"v":1.6},{"x":0.004,"y":9e-5,"v":2.05},{"x":0.005,"y":9e-5,"v":2.05},{"x":0.006,"y":9e-5,"v":2.05},{"x":0.007,"y":9e-5,"v":2.05},{"x":0.008,"y":9e-5,"v":2.05},{"x":0.009,"y":9e-5,"v":1.85},{"x":0.01,"y":9e-5,"v":2.05},{"x":0.02,"y":9e-5,"v":2.05},{"x":0.03,"y":9e-5,"v":1.65},{"x":0.04,"y":9e-5,"v":1.65},{"x":0.05,"y":9e-5,"v":2.05},{"x":0.06,"y":9e-5,"v":1.8},{"x":0.07,"y":9e-5,"v":2.05},{"x":0.08,"y":9e-5,"v":1.85},{"x":0.09,"y":9e-5,"v":2.05},{"x":0.1,"y":9e-5,"v":2.05},{"x":0.2,"y":9e-5,"v":2.05},{"x":0.3,"y":9e-5,"v":2.05},{"x":0.4,"y":9e-5,"v":2.05},{"x":0.5,"y":9e-5,"v":1.8},{"x":0.6,"y":9e-5,"v":2.05},{"x":0.7,"y":9e-5,"v":2.05},{"x":0.8,"y":9e-5,"v":2.05},{"x":0.9,"y":9e-5,"v":1.95},{"x":1,"y":9e-5,"v":2.05},{"x":2,"y":9e-5,"v":2.05},{"x":3,"y":9e-5,"v":2.98},{"x":4,"y":9e-5,"v":2.05},{"x":5,"y":9e-5,"v":2.05},{"x":6,"y":9e-5,"v":2.98},{"x":7,"y":9e-5,"v":2.05},{"x":8,"y":9e-5,"v":2.05},{"x":9,"y":9e-5,"v":2.05},{"x":10,"y":9e-5,"v":2.05},
{"x":0.001,"y":8e-5,"v":2.05},{"x":0.002,"y":8e-5,"v":2.05},{"x":0.003,"y":8e-5,"v":2.05},{"x":0.004,"y":8e-5,"v":2.05},{"x":0.005,"y":8e-5,"v":2.05},{"x":0.006,"y":8e-5,"v":2.05},{"x":0.007,"y":8e-5,"v":2.05},{"x":0.008,"y":8e-5,"v":2.05},{"x":0.009,"y":8e-5,"v":2.05},{"x":0.01,"y":8e-5,"v":1.65},{"x":0.02,"y":8e-5,"v":2.05},{"x":0.03,"y":8e-5,"v":2.05},{"x":0.04,"y":8e-5,"v":2.05},{"x":0.05,"y":8e-5,"v":1.7},{"x":0.06,"y":8e-5,"v":2.05},{"x":0.07,"y":8e-5,"v":2.05},{"x":0.08,"y":8e-5,"v":2.05},{"x":0.09,"y":8e-5,"v":1.7},{"x":0.1,"y":8e-5,"v":2.05},{"x":0.2,"y":8e-5,"v":2.05},{"x":0.3,"y":8e-5,"v":2.05},{"x":0.4,"y":8e-5,"v":2.05},{"x":0.5,"y":8e-5,"v":1.8},{"x":0.6,"y":8e-5,"v":2.05},{"x":0.7,"y":8e-5,"v":2.05},{"x":0.8,"y":8e-5,"v":2.05},{"x":0.9,"y":8e-5,"v":2.05},{"x":1,"y":8e-5,"v":2.05},{"x":2,"y":8e-5,"v":2.05},{"x":3,"y":8e-5,"v":2.98},{"x":4,"y":8e-5,"v":2.05},{"x":5,"y":8e-5,"v":2.05},{"x":6,"y":8e-5,"v":2.05},{"x":7,"y":8e-5,"v":2.05},{"x":8,"y":8e-5,"v":2.05},{"x":9,"y":8e-5,"v":2.05},{"x":10,"y":8e-5,"v":2.05},
{"x":0.001,"y":7e-5,"v":1.6},{"x":0.002,"y":7e-5,"v":2.05},{"x":0.003,"y":7e-5,"v":2.05},{"x":0.004,"y":7e-5,"v":2.05},{"x":0.005,"y":7e-5,"v":1.6},{"x":0.006,"y":7e-5,"v":1.6},{"x":0.007,"y":7e-5,"v":2.05},{"x":0.008,"y":7e-5,"v":2.05},{"x":0.009,"y":7e-5,"v":1.65},{"x":0.01,"y":7e-5,"v":2.05},{"x":0.02,"y":7e-5,"v":2.05},{"x":0.03,"y":7e-5,"v":2.05},{"x":0.04,"y":7e-5,"v":1.75},{"x":0.05,"y":7e-5,"v":2.05},{"x":0.06,"y":7e-5,"v":2.05},{"x":0.07,"y":7e-5,"v":2.05},{"x":0.08,"y":7e-5,"v":2.05},{"x":0.09,"y":7e-5,"v":2.05},{"x":0.1,"y":7e-5,"v":2.05},{"x":0.2,"y":7e-5,"v":2.05},{"x":0.3,"y":7e-5,"v":1.85},{"x":0.4,"y":7e-5,"v":2.05},{"x":0.5,"y":7e-5,"v":2.05},{"x":0.6,"y":7e-5,"v":2.05},{"x":0.7,"y":7e-5,"v":1.9},{"x":0.8,"y":7e-5,"v":2.05},{"x":0.9,"y":7e-5,"v":2.05},{"x":1,"y":7e-5,"v":2.05},{"x":2,"y":7e-5,"v":2.05},{"x":3,"y":7e-5,"v":2.05},{"x":4,"y":7e-5,"v":2.05},{"x":5,"y":7e-5,"v":2.98},{"x":6,"y":7e-5,"v":2.05},{"x":7,"y":7e-5,"v":2.05},{"x":8,"y":7e-5,"v":2.98},{"x":9,"y":7e-5,"v":2.05},{"x":10,"y":7e-5,"v":2.05},
{"x":0.001,"y":6e-5,"v":1.85},{"x":0.002,"y":6e-5,"v":1.85},{"x":0.003,"y":6e-5,"v":1.85},{"x":0.004,"y":6e-5,"v":1.65},{"x":0.005,"y":6e-5,"v":1.85},{"x":0.006,"y":6e-5,"v":1.85},{"x":0.007,"y":6e-5,"v":1.65},{"x":0.008,"y":6e-5,"v":1.85},{"x":0.009,"y":6e-5,"v":1.85},{"x":0.01,"y":6e-5,"v":1.85},{"x":0.02,"y":6e-5,"v":1.85},{"x":0.03,"y":6e-5,"v":1.85},{"x":0.04,"y":6e-5,"v":1.85},{"x":0.05,"y":6e-5,"v":1.85},{"x":0.06,"y":6e-5,"v":1.85},{"x":0.07,"y":6e-5,"v":1.65},{"x":0.08,"y":6e-5,"v":1.85},{"x":0.09,"y":6e-5,"v":1.85},{"x":0.1,"y":6e-5,"v":1.85},{"x":0.2,"y":6e-5,"v":1.65},{"x":0.3,"y":6e-5,"v":1.75},{"x":0.4,"y":6e-5,"v":1.85},{"x":0.5,"y":6e-5,"v":1.85},{"x":0.6,"y":6e-5,"v":1.85},{"x":0.7,"y":6e-5,"v":1.8},{"x":0.8,"y":6e-5,"v":1.85},{"x":0.9,"y":6e-5,"v":1.85},{"x":1,"y":6e-5,"v":1.85},{"x":2,"y":6e-5,"v":2.3},{"x":3,"y":6e-5,"v":1.85},{"x":4,"y":6e-5,"v":1.85},{"x":5,"y":6e-5,"v":1.85},{"x":6,"y":6e-5,"v":1.85},{"x":7,"y":6e-5,"v":1.85},{"x":8,"y":6e-5,"v":1.85},{"x":9,"y":6e-5,"v":1.3},{"x":10,"y":6e-5,"v":1.87},
{"x":0.001,"y":5e-5,"v":1.6},{"x":0.002,"y":5e-5,"v":2.03},{"x":0.003,"y":5e-5,"v":2.03},{"x":0.004,"y":5e-5,"v":2.03},{"x":0.005,"y":5e-5,"v":1.6},{"x":0.006,"y":5e-5,"v":2.03},{"x":0.007,"y":5e-5,"v":2.03},{"x":0.008,"y":5e-5,"v":2.03},{"x":0.009,"y":5e-5,"v":2.03},{"x":0.01,"y":5e-5,"v":2.03},{"x":0.02,"y":5e-5,"v":2.03},{"x":0.03,"y":5e-5,"v":2.03},{"x":0.04,"y":5e-5,"v":1.65},{"x":0.05,"y":5e-5,"v":2.03},{"x":0.06,"y":5e-5,"v":2.03},{"x":0.07,"y":5e-5,"v":1.8},{"x":0.08,"y":5e-5,"v":2.03},{"x":0.09,"y":5e-5,"v":2.03},{"x":0.1,"y":5e-5,"v":2.03},{"x":0.2,"y":5e-5,"v":2.03},{"x":0.3,"y":5e-5,"v":1.75},{"x":0.4,"y":5e-5,"v":2.03},{"x":0.5,"y":5e-5,"v":2.03},{"x":0.6,"y":5e-5,"v":2.03},{"x":0.7,"y":5e-5,"v":1.85},{"x":0.8,"y":5e-5,"v":2.03},{"x":0.9,"y":5e-5,"v":2.03},{"x":1,"y":5e-5,"v":2.03},{"x":2,"y":5e-5,"v":2.3},{"x":3,"y":5e-5,"v":2.03},{"x":4,"y":5e-5,"v":2.03},{"x":5,"y":5e-5,"v":2.03},{"x":6,"y":5e-5,"v":2.03},{"x":7,"y":5e-5,"v":2.03},{"x":8,"y":5e-5,"v":2.03},{"x":9,"y":5e-5,"v":2.03},{"x":10,"y":5e-5,"v":2.03},
{"x":0.001,"y":4e-5,"v":2.03},{"x":0.002,"y":4e-5,"v":2.03},{"x":0.003,"y":4e-5,"v":2.03},{"x":0.004,"y":4e-5,"v":1.6},{"x":0.005,"y":4e-5,"v":2.03},{"x":0.006,"y":4e-5,"v":2.03},{"x":0.007,"y":4e-5,"v":2.03},{"x":0.008,"y":4e-5,"v":1.65},{"x":0.009,"y":4e-5,"v":2.03},{"x":0.01,"y":4e-5,"v":2.03},{"x":0.02,"y":4e-5,"v":2.03},{"x":0.03,"y":4e-5,"v":2.03},{"x":0.04,"y":4e-5,"v":2.03},{"x":0.05,"y":4e-5,"v":1.8},{"x":0.06,"y":4e-5,"v":2.03},{"x":0.07,"y":4e-5,"v":2.03},{"x":0.08,"y":4e-5,"v":1.8},{"x":0.09,"y":4e-5,"v":2.03},{"x":0.1,"y":4e-5,"v":2.03},{"x":0.2,"y":4e-5,"v":2.03},{"x":0.3,"y":4e-5,"v":1.8},{"x":0.4,"y":4e-5,"v":2.03},{"x":0.5,"y":4e-5,"v":2.03},{"x":0.6,"y":4e-5,"v":2.03},{"x":0.7,"y":4e-5,"v":2.03},{"x":0.8,"y":4e-5,"v":2.03},{"x":0.9,"y":4e-5,"v":2.03},{"x":1,"y":4e-5,"v":2.03},{"x":2,"y":4e-5,"v":2.3},{"x":3,"y":4e-5,"v":2.98},{"x":4,"y":4e-5,"v":2.03},{"x":5,"y":4e-5,"v":2.03},{"x":6,"y":4e-5,"v":2.03},{"x":7,"y":4e-5,"v":2.03},{"x":8,"y":4e-5,"v":2.03},{"x":9,"y":4e-5,"v":2.03},{"x":10,"y":4e-5,"v":2.03},
{"x":0.001,"y":3e-5,"v":2.03},{"x":0.002,"y":3e-5,"v":1.65},{"x":0.003,"y":3e-5,"v":2.03},{"x":0.004,"y":3e-5,"v":2.03},{"x":0.005,"y":3e-5,"v":2.03},{"x":0.006,"y":3e-5,"v":1.75},{"x":0.007,"y":3e-5,"v":2.03},{"x":0.008,"y":3e-5,"v":2.03},{"x":0.009,"y":3e-5,"v":2.03},{"x":0.01,"y":3e-5,"v":2.03},{"x":0.02,"y":3e-5,"v":2.03},{"x":0.03,"y":3e-5,"v":2.03},{"x":0.04,"y":3e-5,"v":1.6},{"x":0.05,"y":3e-5,"v":2.03},{"x":0.06,"y":3e-5,"v":2.03},{"x":0.07,"y":3e-5,"v":2.03},{"x":0.08,"y":3e-5,"v":2.03},{"x":0.09,"y":3e-5,"v":2.03},{"x":0.1,"y":3e-5,"v":2.03},{"x":0.2,"y":3e-5,"v":2.03},{"x":0.3,"y":3e-5,"v":1.8},{"x":0.4,"y":3e-5,"v":2.03},{"x":0.5,"y":3e-5,"v":2.03},{"x":0.6,"y":3e-5,"v":1.75},{"x":0.7,"y":3e-5,"v":2.03},{"x":0.8,"y":3e-5,"v":2.03},{"x":0.9,"y":3e-5,"v":2.03},{"x":1,"y":3e-5,"v":2.03},{"x":2,"y":3e-5,"v":2.03},{"x":3,"y":3e-5,"v":2.03},{"x":4,"y":3e-5,"v":2.03},{"x":5,"y":3e-5,"v":2.03},{"x":6,"y":3e-5,"v":2.98},{"x":7,"y":3e-5,"v":2.03},{"x":8,"y":3e-5,"v":2.03},{"x":9,"y":3e-5,"v":2.03},{"x":10,"y":3e-5,"v":2.98},
{"x":0.001,"y":2e-5,"v":1.98},{"x":0.002,"y":2e-5,"v":1.98},{"x":0.003,"y":2e-5,"v":1.6},{"x":0.004,"y":2e-5,"v":1.7},{"x":0.005,"y":2e-5,"v":1.98},{"x":0.006,"y":2e-5,"v":1.98},{"x":0.007,"y":2e-5,"v":1.98},{"x":0.008,"y":2e-5,"v":1.65},{"x":0.009,"y":2e-5,"v":1.98},{"x":0.01,"y":2e-5,"v":1.98},{"x":0.02,"y":2e-5,"v":1.8},{"x":0.03,"y":2e-5,"v":1.98},{"x":0.04,"y":2e-5,"v":1.98},{"x":0.05,"y":2e-5,"v":1.98},{"x":0.06,"y":2e-5,"v":1.98},{"x":0.07,"y":2e-5,"v":1.98},{"x":0.08,"y":2e-5,"v":1.98},{"x":0.09,"y":2e-5,"v":1.8},{"x":0.1,"y":2e-5,"v":1.98},{"x":0.2,"y":2e-5,"v":1.98},{"x":0.3,"y":2e-5,"v":1.75},{"x":0.4,"y":2e-5,"v":1.98},{"x":0.5,"y":2e-5,"v":1.98},{"x":0.6,"y":2e-5,"v":1.98},{"x":0.7,"y":2e-5,"v":1.98},{"x":0.8,"y":2e-5,"v":1.98},{"x":0.9,"y":2e-5,"v":1.98},{"x":1,"y":2e-5,"v":1.9},{"x":2,"y":2e-5,"v":1.98},{"x":3,"y":2e-5,"v":1.98},{"x":4,"y":2e-5,"v":1.98},{"x":5,"y":2e-5,"v":1.98},{"x":6,"y":2e-5,"v":1.98},{"x":7,"y":2e-5,"v":1.98},{"x":8,"y":2e-5,"v":1.98},{"x":9,"y":2e-5,"v":1.98},{"x":10,"y":2e-5,"v":1.98},
{"x":0.001,"y":1e-5,"v":1.97},{"x":0.002,"y":1e-5,"v":1.97},{"x":0.003,"y":1e-5,"v":1.97},{"x":0.004,"y":1e-5,"v":1.97},{"x":0.005,"y":1e-5,"v":1.97},{"x":0.006,"y":1e-5,"v":1.6},{"x":0.007,"y":1e-5,"v":1.5},{"x":0.008,"y":1e-5,"v":1.97},{"x":0.009,"y":1e-5,"v":1.97},{"x":0.01,"y":1e-5,"v":1.65},{"x":0.02,"y":1e-5,"v":1.75},{"x":0.03,"y":1e-5,"v":1.8},{"x":0.04,"y":1e-5,"v":1.97},{"x":0.05,"y":1e-5,"v":1.97},{"x":0.06,"y":1e-5,"v":1.97},{"x":0.07,"y":1e-5,"v":1.97},{"x":0.08,"y":1e-5,"v":1.97},{"x":0.09,"y":1e-5,"v":1.97},{"x":0.1,"y":1e-5,"v":1.97},{"x":0.2,"y":1e-5,"v":1.97},{"x":0.3,"y":1e-5,"v":1.8},{"x":0.4,"y":1e-5,"v":1.97},{"x":0.5,"y":1e-5,"v":1.97},{"x":0.6,"y":1e-5,"v":1.85},{"x":0.7,"y":1e-5,"v":1.97},{"x":0.8,"y":1e-5,"v":1.97},{"x":0.9,"y":1e-5,"v":1.97},{"x":1,"y":1e-5,"v":1.97},{"x":2,"y":1e-5,"v":1.97},{"x":3,"y":1e-5,"v":2.98},{"x":4,"y":1e-5,"v":1.97},{"x":5,"y":1e-5,"v":1.97},{"x":6,"y":1e-5,"v":1.97},{"x":7,"y":1e-5,"v":1.97},{"x":8,"y":1e-5,"v":1.97},{"x":9,"y":1e-5,"v":1.97},{"x":10,"y":1e-5,"v":1.97}
]},
"mark": {"type": "rect", "strokeWidth": 0},
"encoding": {
 "x": {"field": "x", "type": "ordinal", "sort": "ascending",
  "scale": {"paddingInner": 0, "paddingOuter": 0},
  "axis": {"values": [0.001,0.003,0.005,0.007,0.009,0.02,0.04,0.06,0.08,0.1,0.3,0.5,0.7,0.9,2,4,6,8,10],
   "labelExpr": "datum.value >= 1 ? format(datum.value, '.1f') : toString(datum.value)",
   "labelAngle": -90, "labelPadding": 2,
   "title": "shellCNO", "titleFontSize": 9.5, "titleX": 134, "titleY": 45, "titleBaseline": "alphabetic", "titleAlign": "center"}},
 "y": {"field": "y", "type": "ordinal", "sort": "descending",
  "scale": {"paddingInner": 0, "paddingOuter": 0},
  "axis": {"values": [1e-5,3e-5,5e-5,7e-5,9e-5,2e-4,4e-4,6e-4,8e-4,0.001,0.003,0.005,0.007,0.009,0.02,0.04],
   "labelExpr": "format(datum.value / pow(10, floor(log(datum.value) / LN10 + 1e-9)), '.1f') + 'e-0' + toString(-floor(log(datum.value) / LN10 + 1e-9))",
   "labelPadding": 2,
   "title": "ζₖ", "titleFontSize": 17, "titleFontStyle": "italic", "titlePadding": 3}},
 "color": {"field": "v", "type": "quantitative",
  "scale": {"scheme": "redyellowblue", "reverse": true, "domain": [1.0, 3.2]},
  "legend": {"type": "gradient", "title": "log(Rₘₐₓ/R⊙)", "orient": "none", "legendX": 239, "legendY": -17, "direction": "vertical",
   "gradientLength": 229, "gradientThickness": 12, "gradientStrokeColor": "#444", "gradientStrokeWidth": 0.8,
   "values": [1, 1.25, 1.5, 1.75, 2, 2.25, 2.5, 2.75, 3], "format": ".2f",
   "labelFontSize": 11, "labelColor": "black", "labelOffset": 4, "labelFont": "DejaVu Sans",
   "titleFontSize": 12, "titleFont": "DejaVu Sans", "titleFontWeight": "normal", "titleColor": "black", "titlePadding": 3, "titleAnchor": "start", "titleAlign": "center"}}
}
}
